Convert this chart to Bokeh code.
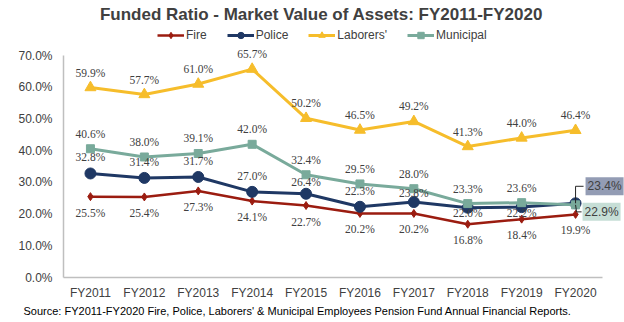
from bokeh.plotting import figure
from bokeh.models import (ColumnDataSource, Range1d, Label, LabelSet, Legend,
                          LegendItem, PrintfTickFormatter, FixedTicker, Title)
from bokeh.embed import file_html
from bokeh.resources import INLINE

years = ["FY2011", "FY2012", "FY2013", "FY2014", "FY2015",
         "FY2016", "FY2017", "FY2018", "FY2019", "FY2020"]
fire = [25.5, 25.4, 27.3, 24.1, 22.7, 20.2, 20.2, 16.8, 18.4, 19.9]
police = [32.8, 31.4, 31.7, 27.0, 26.4, 22.3, 23.8, 22.0, 22.2, 23.4]
laborers = [59.9, 57.7, 61.0, 65.7, 50.2, 46.5, 49.2, 41.3, 44.0, 46.4]
municipal = [40.6, 38.0, 39.1, 42.0, 32.4, 29.5, 28.0, 23.3, 23.6, 22.9]
y_ticks = [0, 10, 20, 30, 40, 50, 60, 70]

title_text = "Funded Ratio - Market Value of Assets: FY2011-FY2020"
source_text = ("Source: FY2011-FY2020 Fire, Police, Laborers' & Municipal "
               "Employees Pension Fund Annual Financial Reports.")

FONT = "Liberation Sans"
TXT = "#404040"

C_FIRE = "#9b1c10"
C_POLICE = "#1f3864"
C_LAB = "#f6bd2b"
C_MUNI = "#79aa9b"

xs = list(range(len(years)))

# layout geometry (pixels)
W, H = 624, 322
LEFT, BOTTOM = 63, 45
AX_TOP = 55            # pixel row of the 70% line
AX_RIGHT = 602         # pixel column where the category axis ends
frame_w = W - LEFT
frame_h = H - BOTTOM
cat_w = (AX_RIGHT - LEFT) / len(years)
y_per_px = y_ticks[-1] / (frame_h - AX_TOP)

p = figure(width=W, height=H,
           x_range=Range1d(-0.5, -0.5 + frame_w / cat_w),
           y_range=Range1d(0, frame_h * y_per_px),
           output_backend="svg", toolbar_location=None,
           min_border_left=LEFT, min_border_right=0, min_border_top=0,
           min_border_bottom=BOTTOM)
p.outline_line_color = None
p.xgrid.visible = False
p.ygrid.visible = False
p.background_fill_color = "white"
p.border_fill_color = "white"

for ax in (p.xaxis[0], p.yaxis[0]):
    ax.axis_line_color = "#bfbfbf"
    ax.axis_line_width = 1.5
    ax.major_tick_line_color = None
    ax.minor_tick_line_color = None
    ax.major_label_text_font = FONT
    ax.major_label_text_font_size = "12px"
    ax.major_label_text_color = TXT
p.yaxis.ticker = FixedTicker(ticks=y_ticks)
p.yaxis.formatter = PrintfTickFormatter(format="%.1f%%")
p.yaxis.bounds = (y_ticks[0], y_ticks[-1])
p.yaxis.major_tick_out = 0
p.yaxis.major_label_standoff = 11
p.xaxis.ticker = FixedTicker(ticks=xs)
p.xaxis.major_label_overrides = {i: y for i, y in zip(xs, years)}
p.xaxis.bounds = (-0.5, len(years) - 0.5)
p.xaxis.major_tick_out = 0
p.xaxis.major_label_standoff = 8

def add_series(vals, color, lw, marker, msize):
    src = ColumnDataSource(dict(x=xs, y=vals))
    lr = p.line("x", "y", source=src, line_color=color, line_width=lw)
    sr = p.scatter("x", "y", source=src, marker=marker, size=msize,
                   fill_color=color, line_color=color)
    return lr, sr

l_fire, m_fire = add_series(fire, C_FIRE, 2.5, "diamond", 8)
l_pol, m_pol = add_series(police, C_POLICE, 3, "circle", 11)
l_lab, m_lab = add_series(laborers, C_LAB, 3, "triangle", 11)
l_mun, m_mun = add_series(municipal, C_MUNI, 3, "square", 8)

def labels(vals, offsets, n=10):
    src = ColumnDataSource(dict(x=xs[:n], y=vals[:n],
                                t=["%.1f%%" % v for v in vals[:n]],
                                off=offsets[:n]))
    ls = LabelSet(x="x", y="y", text="t", source=src, y_offset="off",
                  text_align="center", text_baseline="middle",
                  text_font=FONT, text_font_size="11.5px", text_color=TXT)
    p.add_layout(ls)

labels(fire, [-16] * 10)
labels(laborers, [15] * 10)
labels(municipal, [15] * 10, 9)
labels(police, [16, 16, 16, 16, 12, 16, 9, -5, -6, 0], 9)

# callouts for FY2020
xi = xs[-1]
for val, color, dx, dy in ((police[-1], "#939cb4", 10, 17),
                           (municipal[-1], "#c6ded6", 7, -7)):
    lab = Label(x=xi, y=val, text="%.1f%%" % val, x_offset=dx, y_offset=dy,
                text_align="left", text_baseline="middle", text_font=FONT,
                text_font_size="12px", text_color=TXT,
                background_fill_color=color, padding=2)
    p.add_layout(lab)

p.line(x=[xi, xi, xi + 8 / cat_w],
       y=[police[-1], police[-1] + 17 * y_per_px, police[-1] + 17 * y_per_px],
       line_color="#262626", line_width=1)
p.line(x=[xi, xi + 1 / cat_w, xi + 6 / cat_w],
       y=[municipal[-1], municipal[-1] - 7 * y_per_px, municipal[-1] - 7 * y_per_px],
       line_color="#262626", line_width=1)

legend = Legend(items=[LegendItem(label="Fire", renderers=[l_fire, m_fire]),
                       LegendItem(label="Police", renderers=[l_pol, m_pol]),
                       LegendItem(label="Laborers'", renderers=[l_lab, m_lab]),
                       LegendItem(label="Municipal", renderers=[l_mun, m_mun])],
                orientation="horizontal", location=(157 - LEFT, frame_h - 43),
                glyph_width=27, glyph_height=16, label_standoff=2, spacing=20,
                padding=0, margin=0, border_line_color=None,
                background_fill_alpha=0, label_text_font=FONT,
                label_text_font_size="12px", label_text_color=TXT)
p.add_layout(legend, "center")

p.add_layout(Label(x=321 - LEFT, y=frame_h - 14, x_units="screen", y_units="screen",
                   text=title_text, text_align="center", text_baseline="middle",
                   text_font=FONT, text_font_style="bold", text_font_size="17px",
                   text_color=TXT))
p.add_layout(Title(text=source_text, align="left", offset=-40, standoff=0,
                   text_font=FONT, text_font_size="11px", text_font_style="normal",
                   text_color="#000000"), "below")

open("out.html", "w").write(file_html(p, INLINE))
